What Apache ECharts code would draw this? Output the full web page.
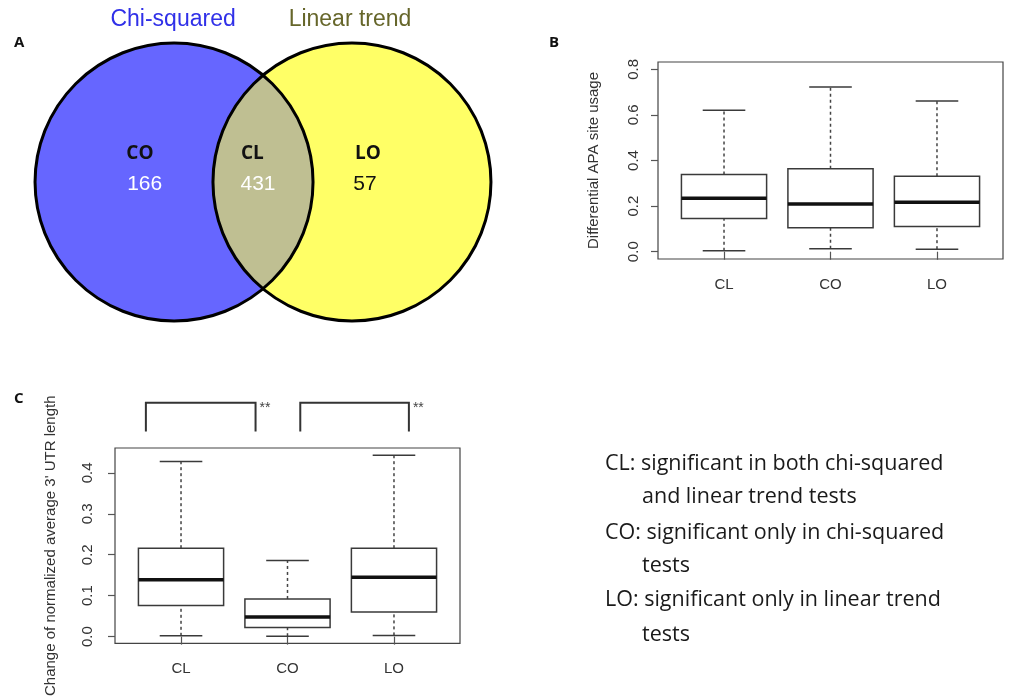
<!DOCTYPE html>
<html>
<head>
<meta charset="utf-8">
<script src="https://cdn.jsdelivr.net/npm/echarts@6/dist/echarts.min.js"></script>
<style>html,body{margin:0;padding:0;background:#fff;}#c{width:1009px;height:698px;}</style>
</head>
<body>
<div id="c"></div>
<script>
// ---------- data ----------
const categories = ['CL', 'CO', 'LO'];
// [lower whisker, Q1, median, Q3, upper whisker]
const usageStats = [
  [0.004, 0.146, 0.234, 0.339, 0.620],
  [0.013, 0.105, 0.209, 0.364, 0.722],
  [0.011, 0.110, 0.217, 0.331, 0.661]
];
const utrStats = [
  [0.002, 0.076, 0.139, 0.216, 0.428],
  [0.001, 0.022, 0.048, 0.092, 0.186],
  [0.003, 0.060, 0.145, 0.216, 0.443]
];
const usageTicks = [0, 0.2, 0.4, 0.6, 0.8];
const utrTicks = [0, 0.1, 0.2, 0.3, 0.4];
const usageTitle = 'Differential APA site usage';
const utrTitle = "Change of normalized average 3' UTR length";
const vennSets = ['Chi-squared', 'Linear trend'];
const vennRegions = ['CO', 'CL', 'LO'];
const vennCounts = [166, 431, 57];
const brackets = [[0.67, 1.70], [2.12, 3.14]];
const bracketMark = '**';
const panelLetters = ['A', 'B', 'C'];
const legendLines = [
  ['CL: significant in both chi-squared', false],
  ['and linear trend tests', true],
  ['CO: significant only in chi-squared', false],
  ['tests', true],
  ['LO: significant only in linear trend', false],
  ['tests', true]
];

// ---------- helpers ----------
const RFONT = '"Liberation Sans", Arial, sans-serif';
const SFONT = '"Open Sans", "Noto Sans", sans-serif';

function boxRender(params, api) {
  const x = api.value(0);
  const lo = api.value(1), q1 = api.value(2), med = api.value(3), q3 = api.value(4), hi = api.value(5);
  const hw = 0.4, cw = 0.2;
  const p = (a, b) => api.coord([a, b]);
  const ln = (a, b, style) => ({ type: 'line', shape: { x1: a[0], y1: a[1], x2: b[0], y2: b[1] }, style: style });
  const solid = { stroke: '#3a3a3a', lineWidth: 1.5, fill: null };
  const dashed = { stroke: '#444', lineWidth: 1.5, lineDash: [3, 3], fill: null };
  const tl = p(x - hw, q3), br = p(x + hw, q1);
  return {
    type: 'group',
    children: [
      ln(p(x, q3), p(x, hi), dashed),
      ln(p(x, lo), p(x, q1), dashed),
      ln(p(x - cw, hi), p(x + cw, hi), solid),
      ln(p(x - cw, lo), p(x + cw, lo), solid),
      { type: 'rect', shape: { x: tl[0], y: tl[1], width: br[0] - tl[0], height: br[1] - tl[1] }, style: { fill: '#fff', stroke: '#3a3a3a', lineWidth: 1.5 } },
      ln(p(x - hw, med), p(x + hw, med), { stroke: '#111', lineWidth: 3.5 })
    ]
  };
}

function boxData(stats) {
  return stats.map((s, i) => [i + 1].concat(s));
}

function xAxisFor(gridIndex, margin) {
  return {
    type: 'value', gridIndex: gridIndex, min: 0.38, max: 3.62,
    axisLine: { show: false }, splitLine: { show: false },
    axisTick: { show: true, customValues: [1, 2, 3], length: 8, lineStyle: { color: '#555', width: 1.2 } },
    axisLabel: { customValues: [1, 2, 3], formatter: v => categories[Math.round(v) - 1], color: '#333', fontSize: 15, fontFamily: RFONT, margin: margin }
  };
}
function yAxisFor(gridIndex, min, max, ticks, title, margin, gap, titleSize) {
  return {
    type: 'value', gridIndex: gridIndex, min: min, max: max,
    axisLine: { show: false }, splitLine: { show: false },
    axisTick: { show: true, customValues: ticks, length: 7, lineStyle: { color: '#555', width: 1.2 } },
    axisLabel: { customValues: ticks, formatter: v => v.toFixed(1), rotate: 90, color: '#333', fontSize: 15, fontFamily: RFONT, margin: margin },
    name: title, nameLocation: 'middle', nameRotate: 90, nameGap: gap,
    nameTextStyle: { color: '#333', fontSize: titleSize, fontFamily: RFONT }
  };
}

// Venn layout in unit-radius coordinates
const vennCircles = [[-0.64, 0.0], [0.64, 0.0]];
const vennR = 1;
const vennFill = ['#6666ff', '#ffff66'];
const lensFill = '#bfbf92';
const vennTitlePos = [[-0.647, 1.165], [0.626, 1.165]];
const vennTitleColor = ['#3030e8', '#66662a'];
const regionPos = [[-0.885, 0.204], [-0.076, 0.201], [0.755, 0.201]];
const countPos = [[-0.851, -0.014], [-0.036, -0.014], [0.734, -0.014]];
const countColor = ['#fff', '#fff', '#111'];

function vennRender(params, api) {
  const c = vennCircles.map(v => api.coord(v));
  const r = api.size([vennR, 0])[0];
  const children = [];
  c.forEach((pt, i) => children.push({ type: 'circle', shape: { cx: pt[0], cy: pt[1], r: r }, style: { fill: vennFill[i] } }));
  const dx = c[1][0] - c[0][0], dy = c[1][1] - c[0][1];
  const d = Math.sqrt(dx * dx + dy * dy);
  const a = d / 2, h = Math.sqrt(r * r - a * a);
  const mx = (c[0][0] + c[1][0]) / 2, my = (c[0][1] + c[1][1]) / 2;
  const ux = -dy / d, uy = dx / d;
  const P1 = [mx - ux * h, my - uy * h], P2 = [mx + ux * h, my + uy * h];
  const path = `M${P1[0]},${P1[1]} A${r},${r} 0 0 1 ${P2[0]},${P2[1]} A${r},${r} 0 0 1 ${P1[0]},${P1[1]} Z`;
  children.push({ type: 'path', shape: { pathData: path }, style: { fill: lensFill } });
  c.forEach(pt => children.push({ type: 'circle', shape: { cx: pt[0], cy: pt[1], r: r }, style: { fill: null, stroke: '#000', lineWidth: 3 } }));
  vennSets.forEach((t, i) => {
    const q = api.coord(vennTitlePos[i]);
    children.push({ type: 'text', x: q[0], y: q[1], style: { text: t, fill: vennTitleColor[i], font: '23px ' + RFONT, align: 'center', verticalAlign: 'middle' } });
  });
  vennRegions.forEach((t, i) => {
    const q = api.coord(regionPos[i]);
    children.push({ type: 'text', x: q[0], y: q[1], style: { text: t, fill: '#111', font: 'bold 19px ' + SFONT, align: 'center', verticalAlign: 'middle' } });
    const q2 = api.coord(countPos[i]);
    children.push({ type: 'text', x: q2[0], y: q2[1], style: { text: String(vennCounts[i]), fill: countColor[i], font: '21px ' + RFONT, align: 'center', verticalAlign: 'middle' } });
  });
  return { type: 'group', children: children };
}

const bracketTop = 0.571, bracketBottom = 0.501;
function bracketRender(params, api) {
  const x1 = api.value(0), x2 = api.value(1);
  const a = api.coord([x1, bracketBottom]), b = api.coord([x1, bracketTop]);
  const c2 = api.coord([x2, bracketTop]), d = api.coord([x2, bracketBottom]);
  return {
    type: 'group',
    children: [
      { type: 'polyline', shape: { points: [a, b, c2, d] }, style: { fill: null, stroke: '#333', lineWidth: 2 } },
      { type: 'text', x: c2[0] + 4, y: c2[1] - 2, style: { text: bracketMark, fill: '#444', font: '14px ' + RFONT, align: 'left', verticalAlign: 'top' } }
    ]
  };
}

const chart = echarts.init(document.getElementById('c'), null, { renderer: 'canvas' });
const option = {
  backgroundColor: '#fff',
  animation: false,
  grid: [
    { left: 12.8, top: 15.2, width: 500.4, height: 333.6, show: false },
    { left: 658, top: 62, width: 345, height: 197, show: true, borderColor: '#444', borderWidth: 1.2, backgroundColor: 'transparent' },
    { left: 115, top: 448, width: 345, height: 198, show: true, borderColor: '#444', borderWidth: 1.2, backgroundColor: 'transparent' }
  ],
  xAxis: [
    { type: 'value', gridIndex: 0, min: -1.8, max: 1.8, show: false },
    xAxisFor(1, 18),
    xAxisFor(2, 18)
  ],
  yAxis: [
    { type: 'value', gridIndex: 0, min: -1.2, max: 1.2, show: false },
    yAxisFor(1, -0.032, 0.832, usageTicks, usageTitle, 17, 57, 15),
    yAxisFor(2, -0.0167, 0.4607, utrTicks, utrTitle, 20, 57, 15)
  ],
  series: [
    { type: 'custom', xAxisIndex: 0, yAxisIndex: 0, renderItem: vennRender, data: [[0, 0]], clip: false, silent: true },
    { type: 'custom', xAxisIndex: 1, yAxisIndex: 1, renderItem: boxRender, data: boxData(usageStats), encode: { x: 0, y: [1, 2, 3, 4, 5] } },
    { type: 'custom', xAxisIndex: 2, yAxisIndex: 2, renderItem: boxRender, data: boxData(utrStats), encode: { x: 0, y: [1, 2, 3, 4, 5] } },
    { type: 'custom', xAxisIndex: 2, yAxisIndex: 2, renderItem: bracketRender, data: brackets, clip: false, encode: { x: [0, 1] } }
  ],
  graphic: [
    { type: 'text', left: 14, top: 35, style: { text: panelLetters[0], font: 'bold 15px ' + SFONT, fill: '#111' } },
    { type: 'text', left: 549, top: 35, style: { text: panelLetters[1], font: 'bold 15px ' + SFONT, fill: '#111' } },
    { type: 'text', left: 14, top: 391, style: { text: panelLetters[2], font: 'bold 15px ' + SFONT, fill: '#111' } }
  ].concat(legendLines.map((l, i) => ({
    type: 'text', left: l[1] ? 642 : 605, top: 462 + [0, 33, 69, 102, 136, 171][i] - 9,
    style: { text: l[0], font: '21.5px ' + SFONT, fill: '#1a1a1a' }
  })))
};
chart.setOption(option);
</script>
</body>
</html>
